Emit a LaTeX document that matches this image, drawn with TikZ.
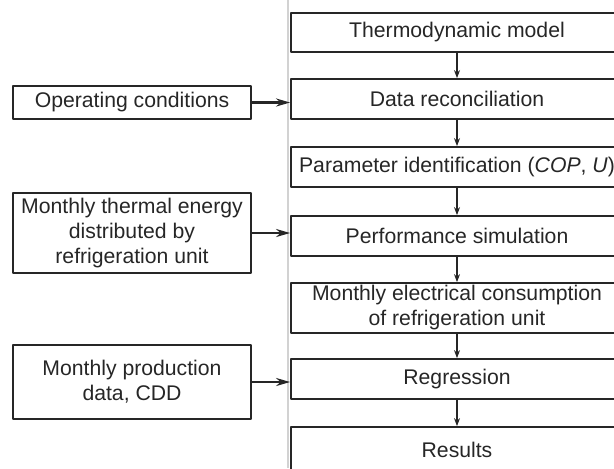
\documentclass[tikz,border=0pt]{standalone}
\usepackage{fontspec}
\setmainfont{Liberation Sans}
\usetikzlibrary{arrows.meta}
\begin{document}
\begin{tikzpicture}[x=0.5pt,y=-0.5pt,line join=round,font=\fontsize{10.6}{12.5}\selectfont,>={Stealth[length=4pt,width=3pt]},
box/.style={draw=black!85,line width=0.9pt,inner sep=0pt,align=center,text=black!85},
rbox/.style={box,minimum width=166pt},
lbox/.style={box,minimum width=119pt},
feed/.style={line width=1.2pt,black!85,-{Stealth[length=7pt,width=4pt]}}]
\useasboundingbox (0,0) rectangle (614,468);
\clip (0,0) rectangle (614,468);
\draw[gray!35,line width=0.6pt] (288,0)--(288,468);
% main chain
\node[rbox,minimum height=19.5pt] (tm) at (457,32.5) {Thermodynamic model};
\node[rbox,minimum height=20pt] (dr) at (457,99) {Data reconciliation};
\node[rbox,minimum height=20pt] (pi) at (457,167) {Parameter identification (\textit{COP}, \textit{U})};
\node[rbox,minimum height=20pt] (ps) at (457,236) {Performance simulation};
\node[rbox,minimum height=25pt] (ec) at (457,308) {Monthly electrical consumption\\of refrigeration unit};
\node[rbox,minimum height=20pt] (rg) at (457,379) {Regression};
\node[rbox,minimum height=22.5pt] (rs) at (457,449.5) {Results};
\foreach \a/\b in {tm/dr,dr/pi,pi/ps,ps/ec,ec/rg,rg/rs}
\draw[->,line width=0.6pt,black!85] (\a.south) -- (\b.north);
% inputs
\node[lbox,minimum height=16.5pt] (oc) at (132,102.5) {Operating conditions};
\node[lbox,minimum height=40pt] (te) at (132,233) {Monthly thermal energy\\distributed by\\refrigeration unit};
\node[lbox,minimum height=37pt] (pd) at (132,382) {Monthly production\\data, CDD};
\draw[feed] (oc.east) -- (oc.east -| dr.west);
\draw[feed] (te.east) -- (te.east -| ps.west);
\draw[feed] (pd.east) -- (pd.east -| rg.west);
\end{tikzpicture}
\end{document}
